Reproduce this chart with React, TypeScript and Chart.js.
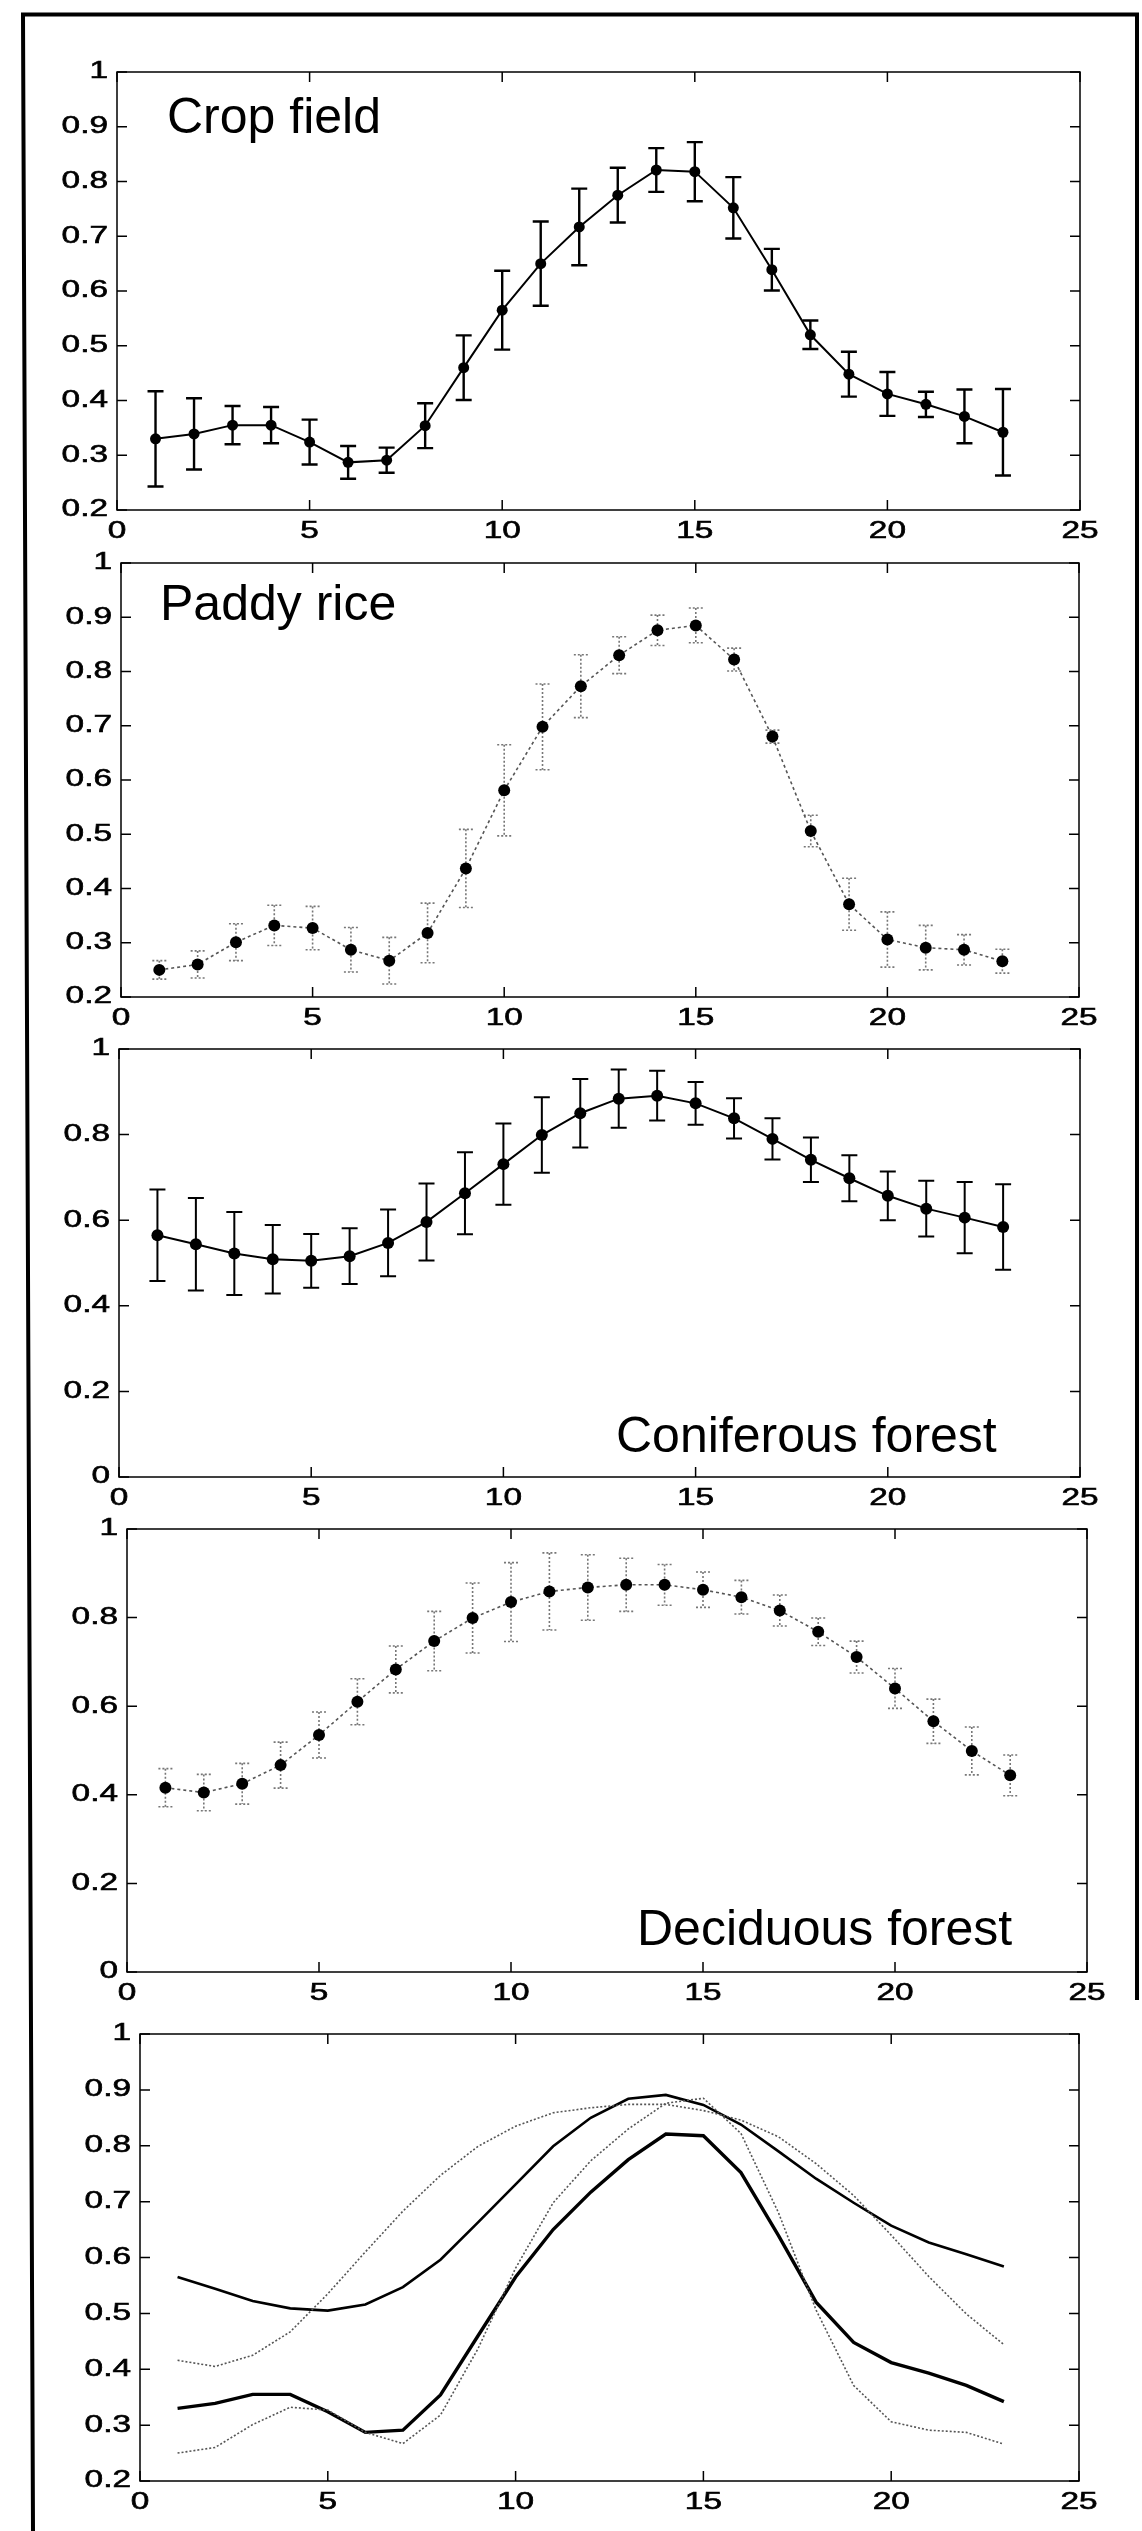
import React, { useEffect, useRef } from 'react';
import { Chart, registerables } from 'chart.js';

Chart.register(...registerables);

// ---------- data ----------
const X_VALUES = [1, 2, 3, 4, 5, 6, 7, 8, 9, 10, 11, 12, 13, 14, 15, 16, 17, 18, 19, 20, 21, 22, 23];

const X_TICKS = [0, 5, 10, 15, 20, 25];
const X_TICK_LABELS = ['0', '5', '10', '15', '20', '25'];
const Y_TICKS_TENTHS = [0.2, 0.3, 0.4, 0.5, 0.6, 0.7, 0.8, 0.9, 1];
const Y_TICK_LABELS_TENTHS = ['0.2', '0.3', '0.4', '0.5', '0.6', '0.7', '0.8', '0.9', '1'];
const Y_TICKS_FIFTHS = [0, 0.2, 0.4, 0.6, 0.8, 1];
const Y_TICK_LABELS_FIFTHS = ['0', '0.2', '0.4', '0.6', '0.8', '1'];

const CROP_MEAN = [0.330, 0.339, 0.355, 0.355, 0.324, 0.287, 0.291, 0.354, 0.460, 0.565, 0.650, 0.717, 0.775, 0.821, 0.818, 0.752, 0.639, 0.520, 0.448, 0.412, 0.393, 0.371, 0.342];
const CROP_ERR = [0.087, 0.065, 0.035, 0.033, 0.041, 0.030, 0.023, 0.041, 0.059, 0.072, 0.077, 0.070, 0.050, 0.040, 0.054, 0.056, 0.038, 0.026, 0.041, 0.040, 0.023, 0.049, 0.079];

const PADDY_MEAN = [0.250, 0.260, 0.301, 0.332, 0.327, 0.287, 0.267, 0.318, 0.437, 0.581, 0.698, 0.773, 0.830, 0.876, 0.885, 0.822, 0.680, 0.506, 0.371, 0.306, 0.291, 0.287, 0.266];
const PADDY_ERR = [0.017, 0.025, 0.034, 0.037, 0.040, 0.041, 0.043, 0.055, 0.072, 0.084, 0.079, 0.058, 0.034, 0.028, 0.032, 0.021, 0.012, 0.029, 0.048, 0.051, 0.041, 0.028, 0.022];

const CONIFER_MEAN = [0.565, 0.544, 0.522, 0.509, 0.505, 0.516, 0.547, 0.596, 0.663, 0.731, 0.799, 0.850, 0.884, 0.891, 0.873, 0.838, 0.790, 0.741, 0.698, 0.657, 0.627, 0.606, 0.584];
const CONIFER_ERR = [0.107, 0.108, 0.097, 0.080, 0.063, 0.065, 0.078, 0.090, 0.096, 0.095, 0.088, 0.080, 0.068, 0.058, 0.050, 0.047, 0.048, 0.052, 0.054, 0.057, 0.065, 0.083, 0.100];

const DECID_MEAN = [0.416, 0.405, 0.425, 0.467, 0.535, 0.610, 0.683, 0.747, 0.799, 0.835, 0.859, 0.868, 0.874, 0.874, 0.863, 0.846, 0.816, 0.768, 0.711, 0.640, 0.566, 0.499, 0.444];
const DECID_ERR = [0.043, 0.041, 0.046, 0.052, 0.052, 0.052, 0.053, 0.067, 0.079, 0.089, 0.087, 0.074, 0.060, 0.046, 0.040, 0.038, 0.035, 0.031, 0.036, 0.045, 0.050, 0.054, 0.046];

const TITLES = ['Crop field', 'Paddy rice', 'Coniferous forest', 'Deciduous forest'];

// ---------- styling / layout ----------
const PAGE_W = 1142;
const PAGE_H = 2531;
const TICK_FONT = '23.5px "Liberation Sans", Arial, sans-serif';
const TITLE_FONT = '50px "Liberation Sans", Arial, sans-serif';
const TICK_STRETCH = 1.42;
const TICK_LEN = 10;

const pts = (ys: number[]) => X_VALUES.map((x, i) => ({ x, y: ys[i] }));

const solidStyle = (lw: number) => ({
  borderColor: '#000',
  borderWidth: lw,
  pointRadius: 5.5,
  pointBackgroundColor: '#000',
  pointBorderWidth: 0,
  errColor: '#000',
  errWidth: 2.4,
  errDash: [] as number[],
  capHalf: 8,
});

const dottedStyle = () => ({
  borderColor: '#555',
  borderWidth: 1.6,
  borderDash: [3, 3],
  pointRadius: 6,
  pointBackgroundColor: '#000',
  pointBorderWidth: 0,
  errColor: '#777',
  errWidth: 1.6,
  errDash: [2, 2],
  capHalf: 7,
});

type Panel = {
  top: number;
  height: number;
  area: { l: number; r: number; t: number; b: number };
  yMin: number;
  yMax: number;
  yTicks: number[];
  yLabels: string[];
  title?: { text: string; x: number; y: number };
  datasets: any[];
};

const PANELS: Panel[] = [
  {
    top: 20, height: 525,
    area: { l: 117, r: 1080, t: 72, b: 510 },
    yMin: 0.2, yMax: 1, yTicks: Y_TICKS_TENTHS, yLabels: Y_TICK_LABELS_TENTHS,
    title: { text: TITLES[0], x: 167, y: 133 },
    datasets: [{ data: pts(CROP_MEAN), errors: CROP_ERR, showLine: true, ...solidStyle(2) }],
  },
  {
    top: 545, height: 485,
    area: { l: 121, r: 1079, t: 563, b: 997 },
    yMin: 0.2, yMax: 1, yTicks: Y_TICKS_TENTHS, yLabels: Y_TICK_LABELS_TENTHS,
    title: { text: TITLES[1], x: 160, y: 620 },
    datasets: [{ data: pts(PADDY_MEAN), errors: PADDY_ERR, showLine: true, ...dottedStyle() }],
  },
  {
    top: 1030, height: 480,
    area: { l: 119, r: 1080, t: 1049, b: 1477 },
    yMin: 0, yMax: 1, yTicks: Y_TICKS_FIFTHS, yLabels: Y_TICK_LABELS_FIFTHS,
    title: { text: TITLES[2], x: 616, y: 1452 },
    datasets: [{ data: pts(CONIFER_MEAN), errors: CONIFER_ERR, showLine: true, ...solidStyle(2), pointRadius: 6, errWidth: 2 }],
  },
  {
    top: 1510, height: 500,
    area: { l: 127, r: 1087, t: 1529, b: 1972 },
    yMin: 0, yMax: 1, yTicks: Y_TICKS_FIFTHS, yLabels: Y_TICK_LABELS_FIFTHS,
    title: { text: TITLES[3], x: 637, y: 1945 },
    datasets: [{ data: pts(DECID_MEAN), errors: DECID_ERR, showLine: true, ...dottedStyle() }],
  },
  {
    top: 2010, height: 521,
    area: { l: 140, r: 1079, t: 2034, b: 2481 },
    yMin: 0.2, yMax: 1, yTicks: Y_TICKS_TENTHS, yLabels: Y_TICK_LABELS_TENTHS,
    datasets: [
      { data: pts(PADDY_MEAN), showLine: true, borderColor: '#555', borderWidth: 1.6, borderDash: [2, 2], pointRadius: 0 },
      { data: pts(DECID_MEAN), showLine: true, borderColor: '#555', borderWidth: 1.6, borderDash: [2, 2], pointRadius: 0 },
      { data: pts(CONIFER_MEAN), showLine: true, borderColor: '#000', borderWidth: 2.6, pointRadius: 0 },
      { data: pts(CROP_MEAN), showLine: true, borderColor: '#000', borderWidth: 3.4, pointRadius: 0 },
    ],
  },
];

// ---------- plugins ----------
const errorBarPlugin = {
  id: 'errorBars',
  beforeDatasetsDraw(chart: any) {
    const { ctx } = chart;
    const yScale = chart.scales.y;
    chart.data.datasets.forEach((ds: any, di: number) => {
      if (!ds.errors) return;
      const meta = chart.getDatasetMeta(di);
      ctx.save();
      ctx.strokeStyle = ds.errColor;
      ctx.lineWidth = ds.errWidth;
      ctx.setLineDash(ds.errDash || []);
      meta.data.forEach((el: any, j: number) => {
        const v = ds.data[j].y;
        const e = ds.errors[j];
        const x = el.x;
        const yHi = yScale.getPixelForValue(v + e);
        const yLo = yScale.getPixelForValue(v - e);
        ctx.beginPath();
        ctx.moveTo(x, yHi);
        ctx.lineTo(x, yLo);
        ctx.moveTo(x - ds.capHalf, yHi);
        ctx.lineTo(x + ds.capHalf, yHi);
        ctx.moveTo(x - ds.capHalf, yLo);
        ctx.lineTo(x + ds.capHalf, yLo);
        ctx.stroke();
      });
      ctx.restore();
    });
  },
};

const axesPlugin = {
  id: 'matlabAxes',
  afterDraw(chart: any, _args: any, opts: any) {
    const { ctx, chartArea } = chart;
    const { left, right, top, bottom } = chartArea;
    const xs = chart.scales.x;
    const ys = chart.scales.y;
    ctx.save();
    ctx.setLineDash([]);
    ctx.strokeStyle = '#000';
    ctx.lineWidth = 1.5;
    ctx.strokeRect(left, top, right - left, bottom - top);
    ctx.beginPath();
    opts.xTicks.forEach((v: number) => {
      const px = xs.getPixelForValue(v);
      ctx.moveTo(px, bottom);
      ctx.lineTo(px, bottom - TICK_LEN);
      ctx.moveTo(px, top);
      ctx.lineTo(px, top + TICK_LEN);
    });
    opts.yTicks.forEach((v: number) => {
      const py = ys.getPixelForValue(v);
      ctx.moveTo(left, py);
      ctx.lineTo(left + TICK_LEN, py);
      ctx.moveTo(right, py);
      ctx.lineTo(right - TICK_LEN, py);
    });
    ctx.stroke();

    ctx.font = TICK_FONT;
    ctx.fillStyle = '#000';
    ctx.lineWidth = 0.6;
    opts.yTicks.forEach((v: number, i: number) => {
      const py = ys.getPixelForValue(v);
      ctx.save();
      ctx.translate(left - 9, py);
      ctx.scale(TICK_STRETCH, 1);
      ctx.textAlign = 'right';
      ctx.textBaseline = 'middle';
      ctx.fillText(opts.yLabels[i], 0, 0);
      ctx.strokeText(opts.yLabels[i], 0, 0);
      ctx.restore();
    });
    opts.xTicks.forEach((v: number, i: number) => {
      const px = xs.getPixelForValue(v);
      ctx.save();
      ctx.translate(px, bottom + 28);
      ctx.scale(TICK_STRETCH, 1);
      ctx.textAlign = 'center';
      ctx.textBaseline = 'alphabetic';
      ctx.fillText(opts.xLabels[i], 0, 0);
      ctx.strokeText(opts.xLabels[i], 0, 0);
      ctx.restore();
    });

    if (opts.title) {
      ctx.font = TITLE_FONT;
      ctx.textAlign = 'left';
      ctx.textBaseline = 'alphabetic';
      ctx.fillText(opts.title.text, opts.title.x, opts.title.y);
    }
    ctx.restore();
  },
};

// ---------- components ----------
function PanelChart({ panel }: { panel: Panel }) {
  const ref = useRef<HTMLCanvasElement | null>(null);
  useEffect(() => {
    if (!ref.current) return;
    const { top, height, area } = panel;
    const chart = new Chart(ref.current, {
      type: 'scatter',
      data: { datasets: panel.datasets },
      options: {
        responsive: false,
        animation: false,
        events: [],
        layout: {
          padding: {
            left: area.l,
            right: PAGE_W - area.r,
            top: area.t - top,
            bottom: top + height - area.b,
          },
        },
        elements: { line: { tension: 0 } },
        scales: {
          x: { type: 'linear', min: 0, max: 25, display: false },
          y: { type: 'linear', min: panel.yMin, max: panel.yMax, display: false },
        },
        plugins: {
          legend: { display: false },
          tooltip: { enabled: false },
          matlabAxes: {
            xTicks: X_TICKS,
            xLabels: X_TICK_LABELS,
            yTicks: panel.yTicks,
            yLabels: panel.yLabels,
            title: panel.title ? { ...panel.title, y: panel.title.y - top } : null,
          },
        } as any,
      },
      plugins: [errorBarPlugin, axesPlugin],
    } as any);
    return () => chart.destroy();
  }, [panel]);
  return (
    <canvas
      ref={ref}
      width={PAGE_W}
      height={panel.height}
      style={{ position: 'absolute', left: 0, top: panel.top, width: PAGE_W, height: panel.height }}
    />
  );
}

export default function App() {
  return (
    <div style={{ position: 'absolute', left: 0, top: 0, width: PAGE_W, height: PAGE_H, background: '#fff', overflow: 'hidden' }}>
      <svg width={PAGE_W} height={PAGE_H} style={{ position: 'absolute', left: 0, top: 0 }}>
        <polyline points="33,2531 23,14.5 1137,14.5 1137,2000" fill="none" stroke="#000" strokeWidth={4} />
      </svg>
      {PANELS.map((p, i) => (
        <PanelChart key={i} panel={p} />
      ))}
    </div>
  );
}
